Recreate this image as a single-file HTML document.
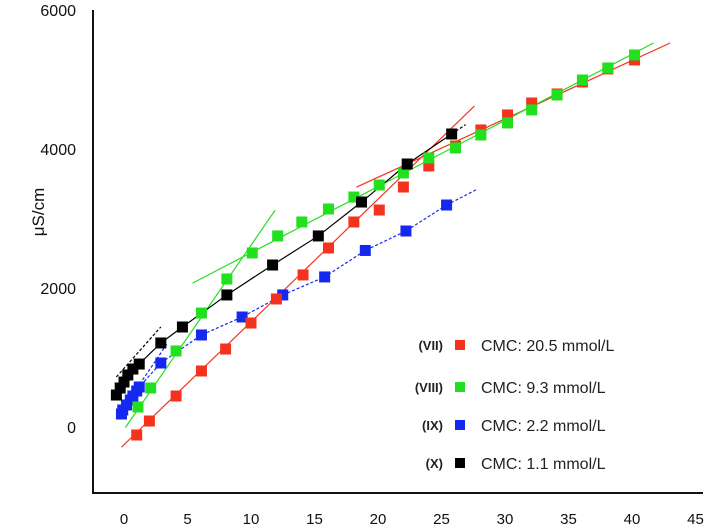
<!DOCTYPE html>
<html><head><meta charset="utf-8"><style>body{margin:0;background:#fff}svg{display:block}</style></head>
<body>
<svg id="chart" width="711" height="532" xmlns="http://www.w3.org/2000/svg" font-family="Liberation Sans, sans-serif">
<g id="axes"></g>
<g id="lines"></g>
<g id="marks"></g>
<g id="legend"></g>
</svg>
<script>
const xTicks=[0,5,10,15,20,25,30,35,40,45];
const yTicks=[0,2000,4000,6000];
const redX=[1,2,4.1,6.1,8,10,12,14.1,16.1,18.1,20.1,22,24,26.1,28.1,30.2,32.1,34.1,36.1,38.1,40.2];
const redY=[-115,86,446,806,1122,1496,1842,2188,2576,2950,3122,3453,3756,4043,4274,4490,4662,4792,4965,5152,5281];
const greenX=[1.1,2.1,4.1,6.1,8.1,10.1,12.1,14,16.1,18.1,20.1,22,24,26.1,28.1,30.2,32.1,34.1,36.1,38.1,40.2];
const greenY=[288,561,1094,1640,2130,2504,2749,2950,3137,3309,3482,3655,3871,4015,4202,4375,4562,4777,4993,5166,5353];
const blueX=[-0.2,-0.1,0.2,0.5,0.7,1.0,1.2,2.9,6.1,9.3,12.5,15.8,19.0,22.2,25.4];
const blueY=[187,245,317,388,446,518,576,921,1324,1583,1900,2159,2540,2820,3194];
const blackX=[-0.6,-0.3,0,0.3,0.7,1.2,2.9,4.6,8.1,11.7,15.3,18.7,22.3,25.8];
const blackY=[460,561,647,748,834,906,1209,1439,1900,2331,2749,3237,3784,4216];
const fitRed=[[-0.2,-290,27.6,4620],[18.3,3450,43,5525]];
const fitGreen=[[0.1,-10,11.9,3120],[5.4,2070,41.7,5525]];
const fitBlue=[[25.4,3194,27.8,3420],[-0.3,200,3.4,1200]];
const fitBlack=[[25.8,4216,26.9,4350],[-0.6,720,2.9,1440]];
const legendTags=["(VII)","(VIII)","(IX)","(X)"];
const legendText=["CMC: 20.5 mmol/L","CMC: 9.3 mmol/L","CMC: 2.2 mmol/L","CMC: 1.1 mmol/L"];
const legendColors=["#f5321e","#22e01e","#1428f0","#000000"];

const NS="http://www.w3.org/2000/svg";
const sx=v=>124+v*12.7;
const sy=v=>427-v*0.0695;
function mk(tag,parent,attrs){const e=document.createElementNS(NS,tag);for(const k in attrs)e.setAttribute(k,attrs[k]);parent.appendChild(e);return e;}
const axes=document.getElementById('axes');
let e=mk('line',axes,{x1:93,y1:10,x2:93,y2:493,stroke:'#111','stroke-width':2});


e=mk('line',axes,{x1:92,y1:493,x2:703,y2:493,stroke:'#111','stroke-width':2});


xTicks.forEach(t=>{const el=mk('text',axes,{x:sx(t),y:524,'text-anchor':'middle','font-size':15,fill:'#111'});el.textContent=t;

});
yTicks.forEach(t=>{const el=mk('text',axes,{x:76,y:sy(t)+6,'text-anchor':'end','font-size':16,fill:'#111'});el.textContent=t;

});
e=mk('text',axes,{x:0,y:0,transform:'translate(44,212) rotate(-90)','text-anchor':'middle','font-size':17,fill:'#111'});
e.textContent='μS/cm';


const lines=document.getElementById('lines');
function fits(arr,color,dash,name){arr.forEach(f=>{const l=mk('line',lines,{x1:sx(f[0]),y1:sy(f[1]),x2:sx(f[2]),y2:sy(f[3]),stroke:color,'stroke-width':1.2});if(dash)l.setAttribute('stroke-dasharray',dash);

});}
function poly(xs,ys,color,dash,name){const p=mk('polyline',lines,{points:xs.map((x,i)=>sx(x)+','+sy(ys[i])).join(' '),fill:'none',stroke:color,'stroke-width':1.2});if(dash)p.setAttribute('stroke-dasharray',dash);

}
fits(fitRed,'#f5321e','','red-fit-line');
fits(fitGreen,'#22e01e','','green-fit-line');
fits(fitBlue,'#1428f0','3 2','blue-fit-line');
fits(fitBlack,'#000','3 2','black-fit-line');
poly(blueX,blueY,'#1428f0','3 2','blue-series-line');
poly(blackX,blackY,'#000','','black-series-line');
const marks=document.getElementById('marks');
function pts(xs,ys,color,name){xs.forEach((x,i)=>{const r=mk('rect',marks,{x:sx(x)-5.5,y:sy(ys[i])-5.5,width:11,height:11,fill:color});

});}
pts(blueX,blueY,'#1428f0','blue-point');
pts(redX,redY,'#f5321e','red-point');
pts(greenX,greenY,'#22e01e','green-point');
pts(blackX,blackY,'#000','black-point');
const lg=document.getElementById('legend');
const rowsY=[345,387,425,463];
legendText.forEach((t,i)=>{
const a=mk('text',lg,{x:443,y:rowsY[i]+5,'text-anchor':'end','font-size':13,'font-weight':'bold',fill:'#222'});a.textContent=legendTags[i];


const s=mk('rect',lg,{x:455,y:rowsY[i]-5,width:10,height:10,fill:legendColors[i]});


const b=mk('text',lg,{x:481,y:rowsY[i]+6,'font-size':16,fill:'#222'});b.textContent=t;


});
</script>
</body></html>
